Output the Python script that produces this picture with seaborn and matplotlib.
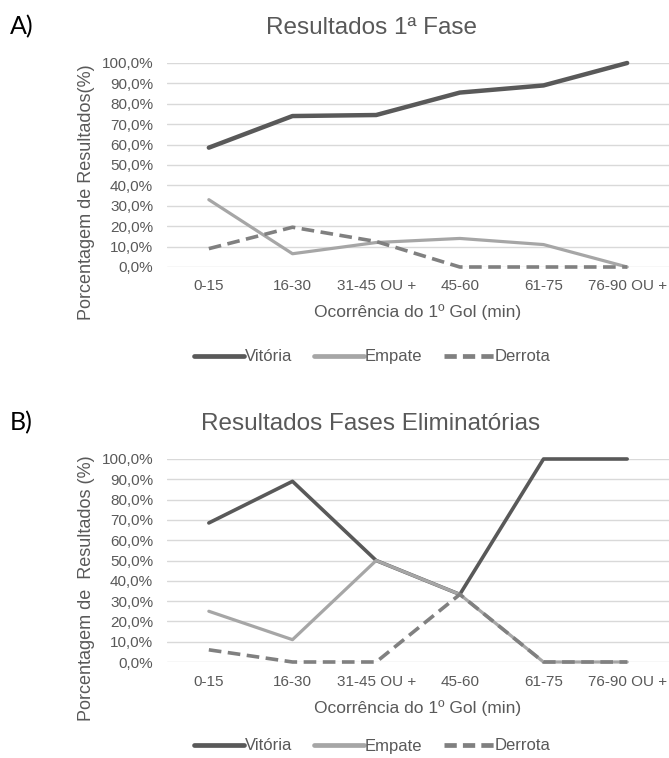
import seaborn as sns
import matplotlib.pyplot as plt
import matplotlib.ticker as mticker
from matplotlib.lines import Line2D
import pandas as pd

# Data
categories = ["0-15", "16-30", "31-45 OU +", "45-60", "61-75", "76-90 OU +"]
series_names = ["Vitória", "Empate", "Derrota"]

fase1_vitoria = [58.5, 74.0, 74.5, 85.5, 89.0, 100.0]
fase1_empate = [33.0, 6.5, 12.0, 14.0, 11.0, 0.0]
fase1_derrota = [9.0, 19.5, 12.5, 0.0, 0.0, 0.0]

elim_vitoria = [68.5, 89.0, 50.0, 33.3, 100.0, 100.0]
elim_empate = [25.0, 11.0, 50.0, 33.3, 0.0, 0.0]
elim_derrota = [6.0, 0.0, 0.0, 33.3, 0.0, 0.0]

TEXT = "#595959"
palette = {"Vitória": "#595959", "Empate": "#a6a6a6", "Derrota": "#808080"}


def long_frame(vit, emp, der):
    rows = []
    for name, vals in zip(series_names, [vit, emp, der]):
        for cat, v in zip(categories, vals):
            rows.append({"Ocorrência": cat, "Resultado": name, "Pct": v})
    return pd.DataFrame(rows)


sns.set_theme(style="white")
plt.rcParams["font.family"] = ["Liberation Sans", "DejaVu Sans"]

fig = plt.figure(figsize=(6.69, 7.58), dpi=100)
W, H = 669, 758


def px_axes(left, top, right, bottom):
    return fig.add_axes([left / W, 1 - bottom / H, (right - left) / W, (bottom - top) / H])


def draw_panel(ax, df, title, letter, ylabel, y_off, widths, legend_y):
    for name in series_names:
        sub = df[df["Resultado"] == name]
        sns.lineplot(data=sub, x="Ocorrência", y="Pct", ax=ax, sort=False,
                     color=palette[name], linewidth=widths[name],
                     legend=False, clip_on=False, zorder=3)
    ax.lines[-1].set_dashes((3.5, 1.8))
    ax.set_xlim(-0.5, len(categories) - 0.5)
    ax.set_ylim(0, 100)
    ax.set_yticks(range(0, 101, 10))
    ax.yaxis.set_major_formatter(mticker.FuncFormatter(lambda v, p: f"{v:.1f}%".replace(".", ",")))
    ax.grid(axis="y", color="#d9d9d9", linewidth=1.0, zorder=0)
    ax.grid(axis="x", visible=False)
    for s in ax.spines.values():
        s.set_visible(False)
    ax.tick_params(axis="both", length=0, labelsize=11, labelcolor=TEXT)
    ax.tick_params(axis="y", pad=10)
    ax.tick_params(axis="x", pad=9)
    ax.set_xlabel("")
    ax.set_ylabel("")

    fig.text(371 / W, 1 - (28 + y_off) / H, title, ha="center", va="center",
             fontsize=17.5, color=TEXT)
    fig.text(10 / W, 1 - (27 + y_off) / H, letter, ha="left", va="center",
             fontsize=18, color="black", family=["Lato", "DejaVu Sans"])
    fig.text(418 / W, 1 - (312 + y_off) / H, "Ocorrência do 1º Gol (min)",
             ha="center", va="center", fontsize=12.5, color=TEXT)
    fig.text(87 / W, 1 - (192 + y_off) / H, ylabel, ha="center", va="center",
             rotation=90, fontsize=13, color=TEXT)

    handles = [Line2D([], [], color=palette[n], linewidth=3.4,
                      linestyle="-" if n != "Derrota" else (0, (2.6, 1.3)))
               for n in series_names]
    fig.legend(handles, series_names, loc="center", ncol=3, frameon=False,
               bbox_to_anchor=(372 / W, 1 - legend_y / H), fontsize=12,
               labelcolor=TEXT, handlelength=3.0, handletextpad=0.05,
               columnspacing=1.3, borderpad=0.1)


ax_a = px_axes(167, 63, 669, 267)
draw_panel(ax_a, long_frame(fase1_vitoria, fase1_empate, fase1_derrota),
           "Resultados 1ª Fase", "A)", "Porcentagem de Resultados(%)", 0,
           {"Vitória": 3.2, "Empate": 2.3, "Derrota": 2.6}, 357)

ax_b = px_axes(167, 459, 669, 662)
draw_panel(ax_b, long_frame(elim_vitoria, elim_empate, elim_derrota),
           "Resultados Fases Eliminatórias", "B)", "Porcentagem de  Resultados (%)", 396,
           {"Vitória": 2.6, "Empate": 2.3, "Derrota": 2.6}, 746)

fig.savefig("out.png", dpi=100)
plt.close(fig)
